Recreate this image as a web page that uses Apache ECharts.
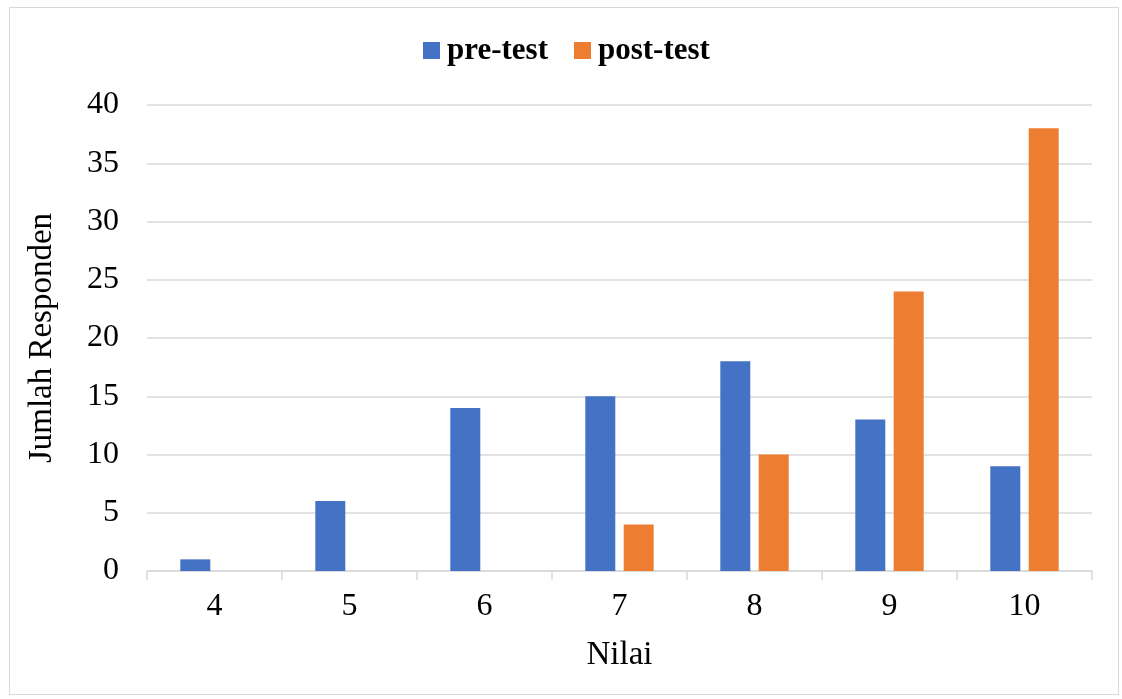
<!DOCTYPE html>
<html>
<head>
<meta charset="utf-8">
<script src="https://cdn.jsdelivr.net/npm/echarts@6/dist/echarts.min.js"></script>
<style>
html,body{margin:0;padding:0;background:#fff;}
#frame{position:absolute;left:9px;top:7px;width:1110px;height:688px;border:1px solid #d9d9d9;box-sizing:border-box;}
#chart{position:absolute;left:0;top:0;width:1122px;height:699px;}
</style>
</head>
<body>
<div id="frame"></div>
<div id="chart"></div>
<script>
const categories = ['4','5','6','7','8','9','10'];
const preTest = [1, 6, 14, 15, 18, 13, 9];
const postTest = [null, null, null, 4, 10, 24, 38];
const yTicks = {min: 0, max: 40, interval: 5};

const chart = echarts.init(document.getElementById('chart'), null, {renderer: 'canvas'});
const font = '"Liberation Serif", "Times New Roman", serif';
chart.setOption({
  animation: false,
  backgroundColor: 'transparent',
  textStyle: {fontFamily: font},
  legend: {
    top: 30,
    left: 418,
    itemWidth: 17,
    itemHeight: 17,
    itemGap: 26,
    icon: 'rect',
    textStyle: {fontFamily: font, fontWeight: 'bold', fontSize: 31, color: '#000', padding: [0, 0, 0, 2]},
    data: ['pre-test', 'post-test']
  },
  grid: {left: 147, right: 30, top: 105, bottom: 128, containLabel: false},
  xAxis: {
    type: 'category',
    data: categories,
    name: 'Nilai',
    nameLocation: 'middle',
    nameGap: 68,
    nameTextStyle: {fontFamily: font, fontSize: 33, color: '#000'},
    axisLine: {lineStyle: {color: '#d9d9d9', width: 1.5}},
    axisTick: {show: true, length: 9, lineStyle: {color: '#d9d9d9', width: 1.5}},
    axisLabel: {fontFamily: font, fontSize: 32, color: '#000', margin: 20}
  },
  yAxis: {
    type: 'value',
    min: yTicks.min,
    max: yTicks.max,
    interval: yTicks.interval,
    name: 'Jumlah Responden',
    nameLocation: 'middle',
    nameGap: 88,
    nameTextStyle: {fontFamily: font, fontSize: 33, color: '#000'},
    axisLine: {show: false},
    axisTick: {show: false},
    splitLine: {lineStyle: {color: '#d9d9d9', width: 1.5}},
    axisLabel: {fontFamily: font, fontSize: 32, color: '#000', margin: 28}
  },
  series: [
    {name: 'pre-test', type: 'bar', data: preTest, barWidth: 30, barGap: '28%',
     itemStyle: {color: '#4472C4'}},
    {name: 'post-test', type: 'bar', data: postTest, barWidth: 30, barGap: '28%',
     itemStyle: {color: '#ED7D31'}}
  ]
});
</script>
</body>
</html>
